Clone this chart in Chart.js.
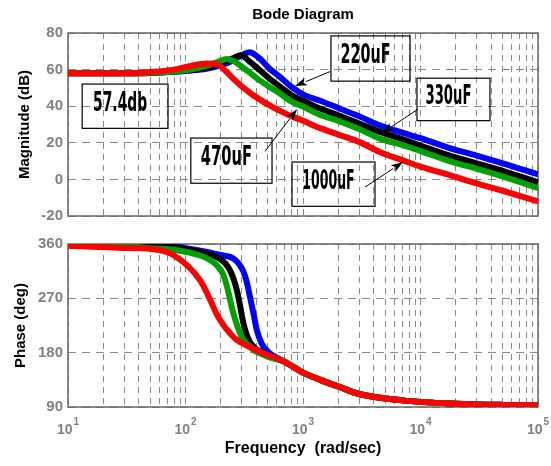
<!DOCTYPE html>
<html>
<head>
<meta charset="utf-8">
<script src="https://cdn.jsdelivr.net/npm/chart.js@4.4.1/dist/chart.umd.min.js"></script>
<style>
  html, body { margin: 0; padding: 0; background: #fff; }
  #wrap { position: relative; width: 551px; height: 466px; }
  canvas { position: absolute; left: 0; }
  #magChart { top: 0; }
  #phaseChart { top: 230px; }
</style>
</head>
<body>
<div id="wrap">
  <canvas id="magChart" width="551" height="230"></canvas>
  <canvas id="phaseChart" width="551" height="236"></canvas>
</div>
<script>
// series order: drawn first = on top (red over green over black over blue)
const seriesNames = ['1000uF', '470uF', '330uF', '220uF'];
const seriesColors = ['#ff0000', '#00a000', '#000000', '#0000ff'];

// magnitude (dB) vs frequency (rad/sec)
const magFreq = [10, 30, 50, 80, 110, 150, 185, 225, 260, 295, 350, 420, 520, 650, 800, 1000, 1400, 2000, 3000, 4500, 7000, 10000, 18000, 30000, 50000, 100000];
const mag1000 = [58, 58, 58.7, 60, 62, 63.3, 63, 58.5, 54.5, 51.3, 47.5, 44, 40.5, 37.2, 34.5, 32, 28, 24.5, 20.5, 15, 10.5, 7, 2.2, -2.2, -6.2, -12];
const mag470 = [58, 58, 58.3, 59, 60, 62, 64, 65.8, 64.5, 62, 58.5, 54.5, 50.5, 46.5, 42.5, 39.8, 35.2, 32, 27.5, 22.3, 18.8, 15.5, 9.8, 5.8, 1.6, -4.8];
const mag330 = [58, 58, 58.2, 58.9, 59.7, 61, 62.5, 64.8, 66.5, 67.8, 64.5, 60.2, 55, 50.3, 46, 43, 38.7, 35, 30.5, 26, 22, 18.5, 12.8, 8.8, 4.7, -1.6];
const mag220 = [58, 58, 58.2, 58.8, 59.5, 60.5, 61.8, 63.5, 65.5, 67.5, 69.5, 66.5, 60.5, 55.5, 50.5, 46.5, 43, 39, 34.5, 29.5, 25.5, 22.5, 17, 13, 8.8, 2.7];

// phase (deg) vs frequency (rad/sec)
const phaseFreq = [10, 30, 50, 80, 133, 160, 184, 210, 230, 250, 270, 290, 310, 330, 355, 380, 405, 445, 520, 680, 1000, 1400, 2000, 3000, 7000, 20000, 50000, 100000];
const phase1000 = [357, 353.5, 352, 341, 300, 270, 244, 226, 216, 208, 202, 198, 195, 192, 189, 186, 184, 180, 175, 166, 147, 135, 124, 111.5, 101, 95.5, 93.5, 93];
const phase470 = [360, 357.5, 353, 350.5, 341, 334, 325, 308.7, 283, 252, 230, 213, 202, 195, 190, 184, 181, 178, 172, 166, 147, 135, 124, 111.5, 101, 95.5, 93.5, 93];
const phase330 = [360, 359, 357.8, 355, 346.5, 343, 338.4, 331, 322, 308, 288, 260, 230, 211, 197, 190, 185, 182, 174, 166, 147, 135, 124, 111.5, 101, 95.5, 93.5, 93];
const phase220 = [360, 359.5, 358.4, 356, 349, 346, 343, 341, 339.5, 337, 332, 325, 315, 299, 271, 244, 217, 195, 179, 166, 147, 135, 124, 111.5, 101, 95.5, 93.5, 93];

const xDecades = [1, 2, 3, 4, 5];

// text boxes with arrows, in data units: box [f1, f2, dBtop, dBbottom], from/to [f, dB]
const notes = [
  { text: '57.4db', box: [13.2, 71, 52.1, 27.9] },
  { text: '220uF', box: [1730, 8150, 78.4, 53.7], from: [1698, 58.9], to: [855, 51] },
  { text: '330uF', box: [9330, 39000, 55.3, 32.1], from: [9520, 38.4], to: [4700, 25.3] },
  { text: '470uF', box: [111, 545, 22.6, -2.1], from: [475, 15.3], to: [889, 38.4] },
  { text: '1000uF', box: [806, 4100, 9.5, -14.7], from: [3375, -4.2], to: [7100, 9.5] }
];

Chart.defaults.font.family = '"Liberation Sans", Arial, sans-serif';
const gridColor = '#8a8a8a';
const tickGray = '#808080';

function makeSets(freq, lists) {
  return lists.map((vals, i) => ({
    label: seriesNames[i],
    data: freq.map((f, k) => ({ x: f, y: vals[k] })),
    borderColor: seriesColors[i],
    backgroundColor: seriesColors[i],
    borderWidth: 6,
    pointRadius: 0,
    cubicInterpolationMode: 'monotone',
    borderJoinStyle: 'round',
    clip: 0
  }));
}

// log ticks 1..9 x 10^n so every minor grid line gets drawn
function decadeTicks(scale) {
  const t = [];
  for (let e = 1; e <= 5; e++) {
    for (let m = 1; m < 10; m++) {
      const v = m * Math.pow(10, e);
      if (v <= 1e5) t.push({ value: v });
    }
  }
  scale.ticks = t;
}

const frame = {
  id: 'frame',
  beforeDatasetsDraw(chart) {
    const { ctx, chartArea: a } = chart;
    ctx.save();
    ctx.strokeStyle = '#666';
    ctx.lineWidth = 1.5;
    ctx.strokeRect(a.left, a.top, a.right - a.left, a.bottom - a.top);
    ctx.restore();
  }
};

const notesPlugin = {
  id: 'notes',
  afterDatasetsDraw(chart) {
    const { ctx, scales: { x, y } } = chart;
    ctx.save();
    notes.forEach(n => {
      const x1 = x.getPixelForValue(n.box[0]), x2 = x.getPixelForValue(n.box[1]);
      const y1 = y.getPixelForValue(n.box[2]), y2 = y.getPixelForValue(n.box[3]);
      ctx.strokeStyle = '#000';
      ctx.lineWidth = 1.2;
      ctx.strokeRect(x1, y1, x2 - x1, y2 - y1);

      // narrow bold label, squeezed to about 63% of the box width
      ctx.save();
      ctx.font = 'bold 26px "Liberation Sans Narrow", "DejaVu Sans Condensed", sans-serif';
      const sx = 0.63 * (x2 - x1) / ctx.measureText(n.text).width;
      ctx.translate((x1 + x2) / 2 - 5, (y1 + y2) / 2 - 2);
      ctx.scale(sx, 1);
      ctx.textAlign = 'center';
      ctx.textBaseline = 'middle';
      ctx.fillStyle = '#000';
      ctx.fillText(n.text, 0, 0);
      ctx.restore();

      if (n.from) {
        const fx = x.getPixelForValue(n.from[0]), fy = y.getPixelForValue(n.from[1]);
        const tx = x.getPixelForValue(n.to[0]), ty = y.getPixelForValue(n.to[1]);
        const ang = Math.atan2(ty - fy, tx - fx);
        const c = Math.cos(ang), s = Math.sin(ang);
        const len = 12, half = 4;
        ctx.lineWidth = 1;
        ctx.beginPath();
        ctx.moveTo(fx, fy);
        ctx.lineTo(tx - len * c, ty - len * s);
        ctx.stroke();
        ctx.beginPath();
        ctx.moveTo(tx, ty);
        ctx.lineTo(tx - len * c - half * s, ty - len * s + half * c);
        ctx.lineTo(tx - len * c * 0.75, ty - len * s * 0.75);
        ctx.lineTo(tx - len * c + half * s, ty - len * s - half * c);
        ctx.closePath();
        ctx.fillStyle = '#000';
        ctx.fill();
      }
    });
    ctx.restore();
  }
};

// 10^n tick labels with a raised exponent
const expLabels = {
  id: 'expLabels',
  afterDraw(chart) {
    const { ctx, scales: { x } } = chart;
    ctx.save();
    ctx.fillStyle = tickGray;
    ctx.textAlign = 'left';
    ctx.textBaseline = 'alphabetic';
    xDecades.forEach(e => {
      const px = x.getPixelForValue(Math.pow(10, e));
      ctx.font = 'bold 14px "Liberation Sans", Arial, sans-serif';
      const w1 = ctx.measureText('10').width;
      ctx.font = 'bold 10px "Liberation Sans", Arial, sans-serif';
      const w2 = ctx.measureText(String(e)).width;
      const left = px - (w1 + w2 + 1) / 2;
      ctx.font = 'bold 14px "Liberation Sans", Arial, sans-serif';
      ctx.fillText('10', left, x.top + 27);
      ctx.font = 'bold 10px "Liberation Sans", Arial, sans-serif';
      ctx.fillText(String(e), left + w1 + 1, x.top + 18);
    });
    ctx.restore();
  }
};

new Chart(document.getElementById('magChart'), {
  type: 'line',
  data: { datasets: makeSets(magFreq, [mag1000, mag470, mag330, mag220]) },
  plugins: [frame, notesPlugin],
  options: {
    responsive: false,
    animation: false,
    events: [],
    layout: { padding: { left: 0, right: 13, top: 0, bottom: 7 } },
    plugins: {
      legend: { display: false },
      tooltip: { enabled: false },
      title: {
        display: true,
        text: 'Bode Diagram',
        color: '#000',
        fullSize: false,
        font: { size: 15, weight: 'bold' },
        padding: { top: 6, bottom: 9 }
      }
    },
    scales: {
      x: {
        type: 'logarithmic',
        min: 10,
        max: 1e5,
        afterBuildTicks: decadeTicks,
        afterFit: s => { s.height = 0; },
        ticks: { display: false },
        grid: { color: gridColor, drawTicks: false },
        border: { display: false, dash: [6, 5] }
      },
      y: {
        min: -20,
        max: 80,
        afterFit: s => { s.width = 68; },
        ticks: { stepSize: 20, color: tickGray, font: { size: 15, weight: 'bold' }, padding: 5 },
        grid: { color: gridColor, drawTicks: false },
        border: { display: false, dash: [8, 6] },
        title: {
          display: true,
          text: 'Magnitude (dB)',
          color: '#000',
          font: { size: 15, weight: 'bold' },
          padding: { top: 16, bottom: 0 }
        }
      }
    }
  }
});

new Chart(document.getElementById('phaseChart'), {
  type: 'line',
  data: { datasets: makeSets(phaseFreq, [phase1000, phase470, phase330, phase220]) },
  plugins: [frame, expLabels],
  options: {
    responsive: false,
    animation: false,
    events: [],
    layout: { padding: { left: 0, right: 13, top: 10, bottom: 0 } },
    plugins: {
      legend: { display: false },
      tooltip: { enabled: false }
    },
    scales: {
      x: {
        type: 'logarithmic',
        min: 10,
        max: 1e5,
        afterBuildTicks: decadeTicks,
        afterFit: s => { s.height = 59; },
        ticks: { display: false },
        grid: { color: gridColor, drawTicks: false },
        border: { display: false, dash: [6, 5] },
        title: {
          display: true,
          text: 'Frequency  (rad/sec)',
          color: '#000',
          font: { size: 16, weight: 'bold' },
          padding: { top: 0, bottom: 8 }
        }
      },
      y: {
        min: 90,
        max: 360,
        afterFit: s => { s.width = 68; },
        ticks: { stepSize: 90, color: tickGray, font: { size: 15, weight: 'bold' }, padding: 5 },
        grid: { color: gridColor, drawTicks: false },
        border: { display: false, dash: [8, 6] },
        title: {
          display: true,
          text: 'Phase (deg)',
          color: '#000',
          font: { size: 15, weight: 'bold' },
          padding: { top: 12, bottom: 0 }
        }
      }
    }
  }
});
</script>
</body>
</html>
